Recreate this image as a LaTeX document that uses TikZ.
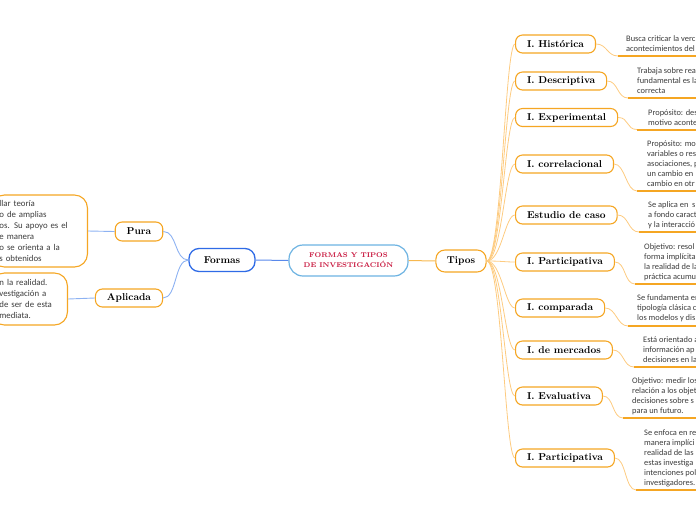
\documentclass[tikz,border=0pt]{standalone}
\usepackage{fontspec}
\newfontfamily\descfont{Carlito}
\definecolor{orng}{HTML}{F5A623}
\definecolor{paleorng}{HTML}{FDCB80}
\definecolor{blueb}{HTML}{2F6BE6}
\definecolor{paleblue}{HTML}{8DB2F2}
\definecolor{skyb}{HTML}{6DB3E2}
\definecolor{crim}{HTML}{C8163D}
\definecolor{desctext}{HTML}{3C3C3C}
\begin{document}
\begin{tikzpicture}[x=1pt,y=-1pt,
  topic/.style={draw=orng, line width=1.1pt, fill=white, rounded corners=7pt,
    font=\fontsize{10}{12}\selectfont\bfseries, minimum height=18pt,
    inner xsep=11.5pt, inner ysep=0pt},
  rootbox/.style={draw=skyb, line width=1.2pt, fill=white, rounded corners=14pt,
    minimum width=119pt, minimum height=31pt, text=crim, align=center,
    font=\fontsize{6.9}{10}\selectfont\bfseries, inner sep=0pt},
  formbox/.style={draw=blueb, line width=1.3pt, fill=white, rounded corners=10pt,
    minimum width=66pt, minimum height=23pt, font=\fontsize{10}{12}\selectfont\bfseries,
    inner sep=0pt},
  leftbox/.style={draw=orng, line width=1.1pt, fill=white, rounded corners=13pt,
    align=left, text=desctext, font=\descfont\fontsize{8.8}{11}\selectfont,
    inner xsep=8pt, inner ysep=0pt, anchor=east},
  desc/.style={align=left, text=desctext, font=\descfont\fontsize{8.4}{10}\selectfont,
    inner sep=0pt, anchor=west},
  uline/.style={draw=orng, line width=2pt},
  tcurve/.style={draw=paleorng, line width=0.8pt},
  ocon/.style={draw=orng!80, line width=1pt},
  bcon/.style={draw=blueb!80, line width=1pt},
  pbcon/.style={draw=paleblue, line width=0.9pt}
]
\useasboundingbox (0,0) rectangle (696,520);
\clip (0,0) rectangle (696,520);

% centre
\node[rootbox] (root) at (348.5,260.5) {FORMAS Y TIPOS\\DE INVESTIGACIÓN};

% left branch
\node[formbox] (formas) at (222,260) {Formas};
\node[topic, minimum height=19pt] (pura) at (139,231.5) {Pura};
\node[topic] (aplicada) at (129,298) {Aplicada};
\node[leftbox, text width=80pt, minimum height=72pt] (purabox) at (88,231)
  {llar teoría\\o de amplias\\os. Su apoyo es el\\e manera\\o se orienta a la\\s obtenidos};
\node[leftbox, text width=60pt, minimum height=52pt] (aplbox) at (68,299)
  {n la realidad.\\vestigación a\\de ser de esta\\mediata.};

\draw[bcon] (formas.east) -- (root.west);
\draw[pbcon] (formas.west) .. controls +(-14,0) and +(14,0) .. (pura.east);
\draw[pbcon] (formas.west) .. controls +(-14,0) and +(14,0) .. (aplicada.east);
\draw[pbcon] (pura.west) -- (purabox.east);
\draw[pbcon] (aplicada.west) -- (aplbox.east);

% right branch
\node[topic, minimum height=22pt, inner xsep=11pt, rounded corners=9pt] (tipos) at (461,261) {Tipos};
\draw[ocon] (root.east) -- (tipos.west);

\node[topic, anchor=west] (hist) at (515,44) {I. Histórica};
\node[topic, anchor=west] (desc) at (515,81) {I. Descriptiva};
\node[topic, anchor=west] (exp) at (515,117.5) {I. Experimental};
\node[topic, anchor=west] (corr) at (515,164) {I. correlacional};
\node[topic, anchor=west] (caso) at (515,215) {Estudio de caso};
\node[topic, anchor=west] (part) at (515,262) {I. Participativa};
\node[topic, anchor=west] (comp) at (515,308) {I. comparada};
\node[topic, anchor=west] (merc) at (515,350) {I. de mercados};
\node[topic, anchor=west] (eval) at (515,396) {I. Evaluativa};
\node[topic, anchor=west] (parttwo) at (515,458) {I. Participativa};

\foreach \n in {hist,desc,exp,corr,caso,part,comp,merc,eval,parttwo}
  \draw[tcurve] (tipos.east) .. controls +(15,0) and +(-10,0) .. (\n.west);

% descriptions
\node[desc] (histtxt) at (626,44) {Busca criticar la verc\\acontecimientos del};
\coordinate (histul) at (618,56);
\node[desc] (desctxt) at (637,81) {Trabaja sobre rea\\fundamental es la\\correcta};
\coordinate (descul) at (628,98);
\node[desc] (exptxt) at (648,117.5) {Propósito: des\\motivo aconte};
\coordinate (expul) at (637,129.5);
\node[desc] (corrtxt) at (647,164) {Propósito: mo\\variables o res\\asociaciones, p\\un cambio en\\cambio en otr};
\coordinate (corrul) at (637,191);
\node[desc] (casotxt) at (648,215) {Se aplica en\ \ s\\a fondo caract\\y la interacció};
\coordinate (casoul) at (639,232);
\node[desc] (parttxt) at (644,262) {Objetivo: resol\\forma implícita\\la realidad de la\\práctica acumu};
\coordinate (partul) at (635,284);
\node[desc] (comptxt) at (637,308) {Se fundamenta en\\tipología clásica c\\los modelos y dis};
\coordinate (compul) at (628,326);
\node[desc] (merctxt) at (643,350) {Está orientado a\\información ap\\decisiones en la};
\coordinate (mercul) at (634,367);
\node[desc] (evaltxt) at (632,396) {Objetivo: medir los\\relación a los objet\\decisiones sobre s\\para un futuro.};
\coordinate (evalul) at (623,418);
\node[desc] (parttwotxt) at (644,458) {Se enfoca en re\\manera implíci\\realidad de las\\estas investiga\\intenciones pol\\investigadores.};
\coordinate (parttwoul) at (636,490);

\foreach \n in {hist,desc,exp,corr,caso,part,comp,merc,eval,parttwo}{
  \draw[tcurve] (\n.east) .. controls +(11,0) and +(-11,0) .. (\n ul);
  \draw[uline] (\n ul) -- ++(80,0);
}
\end{tikzpicture}
\end{document}
